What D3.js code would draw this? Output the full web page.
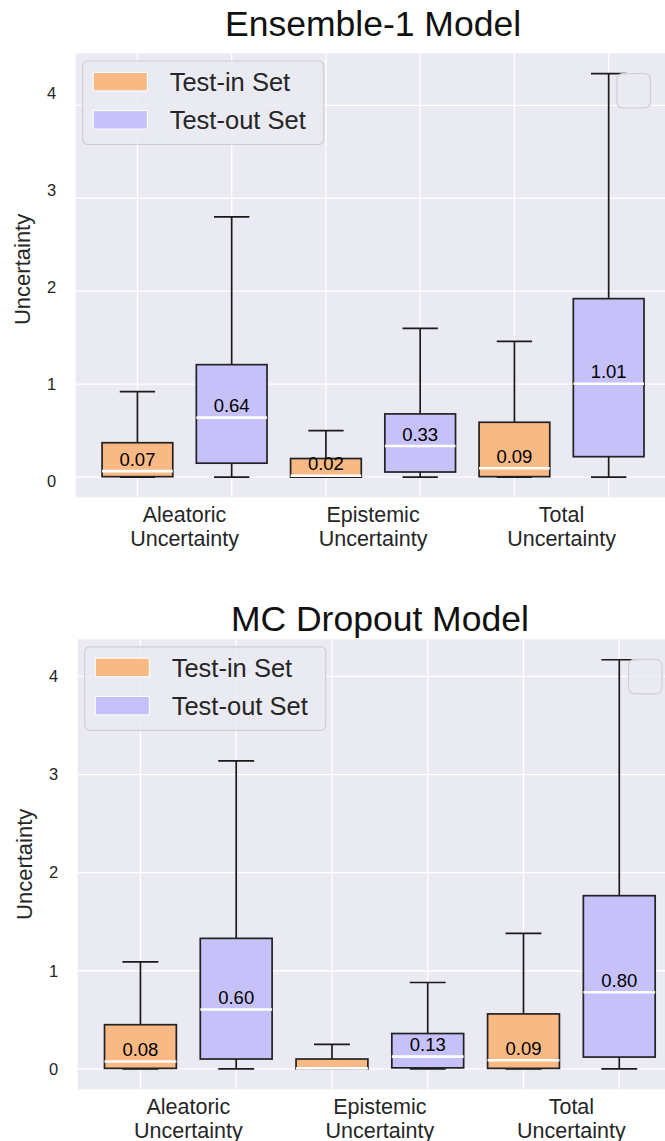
<!DOCTYPE html>
<html><head><meta charset="utf-8">
<script src="https://cdn.jsdelivr.net/npm/d3@7"></script>
<style>
body{margin:0;background:#fff;}
svg{display:block;font-family:Arial,"Liberation Sans",sans-serif;}
</style>
</head><body>
<svg id="chart" width="665" height="1141"></svg>
<script>
// ---------- data ----------
const categories = [["Aleatoric","Uncertainty"],["Epistemic","Uncertainty"],["Total","Uncertainty"]];
const groups = ["Test-in Set","Test-out Set"];
const groupColors = ["#f9b985","#c6c1f8"];
const yTicks = [0,1,2,3,4];
const panelTitles = ["Ensemble-1 Model","MC Dropout Model"];
const yAxisTitle = "Uncertainty";

// box order: Aleatoric in, Aleatoric out, Epistemic in, Epistemic out, Total in, Total out
const ensWhiskerLow  = [0, 0, 0, 0, 0, 0];
const ensQ1          = [0.005, 0.15, 0.0, 0.055, 0.005, 0.22];
const ensMedian      = [0.065, 0.64, 0.015, 0.335, 0.095, 1.005];
const ensQ3          = [0.37, 1.21, 0.20, 0.68, 0.59, 1.92];
const ensWhiskerHigh = [0.92, 2.80, 0.50, 1.60, 1.46, 4.34];
const ensLabels      = ["0.07","0.64","0.02","0.33","0.09","1.01"];

const mcWhiskerLow  = [0, 0, 0, 0, 0, 0];
const mcQ1          = [0.005, 0.10, 0.0, 0.01, 0.005, 0.12];
const mcMedian      = [0.075, 0.605, 0.005, 0.125, 0.088, 0.78];
const mcQ3          = [0.45, 1.33, 0.10, 0.36, 0.56, 1.765];
const mcWhiskerHigh = [1.09, 3.14, 0.25, 0.88, 1.38, 4.17];
const mcLabels      = ["0.08","0.60","","0.13","0.09","0.80"];

// ---------- layout ----------
const panels = [
  {title: panelTitles[0], left: 75.7, right: 670.4, top: 53.5, bottom: 497.3, titleBase: 36,
   tickLabelRange: [481, 93.5],
   stats: {lo: ensWhiskerLow, q1: ensQ1, med: ensMedian, q3: ensQ3, hi: ensWhiskerHigh, labels: ensLabels}},
  {title: panelTitles[1], left: 77.7, right: 682, top: 639.3, bottom: 1089.3, titleBase: 631,
   tickLabelRange: null,
   stats: {lo: mcWhiskerLow, q1: mcQ1, med: mcMedian, q3: mcQ3, hi: mcWhiskerHigh, labels: mcLabels}}
];

const svg = d3.select("#chart");
const BG = "#eaeaf2", TXT = "#262626";

panels.forEach((p, pi) => {
  const g = svg.append("g");
  const s = p.stats;
  const n = s.med.length;
  const idx = d3.range(n);
  const x = d3.scaleLinear().domain([-0.655, n - 1 + 0.655]).range([p.left, p.right]);
  const lo = d3.min(s.lo), hi = d3.max(s.hi), pad = (hi - lo) * 0.05;
  const y = d3.scaleLinear().domain([lo - pad, hi + pad]).range([p.bottom, p.top]);

  // background
  g.append("rect").attr("x", p.left).attr("y", p.top)
    .attr("width", p.right - p.left).attr("height", p.bottom - p.top).attr("fill", BG);

  // grid
  g.append("g").selectAll("line").data(yTicks).join("line")
    .attr("x1", p.left).attr("x2", p.right)
    .attr("y1", d => y(d)).attr("y2", d => y(d))
    .attr("stroke", "#fff").attr("stroke-width", 1.3);
  g.append("g").selectAll("line").data(idx).join("line")
    .attr("x1", d => x(d)).attr("x2", d => x(d))
    .attr("y1", p.top).attr("y2", p.bottom)
    .attr("stroke", "#fff").attr("stroke-width", 1.3);

  // y tick labels
  const labelScale = p.tickLabelRange ? d3.scaleLinear().domain([0, 4]).range(p.tickLabelRange) : y;
  const yAxis = d3.axisLeft(labelScale).tickValues(yTicks).tickSize(0).tickPadding(0).tickFormat(d3.format("d"));
  const ya = g.append("g").attr("transform", `translate(${p.left - 19.5},0)`).call(yAxis);
  ya.select(".domain").remove();
  ya.selectAll("text").attr("font-size", 16.5).attr("fill", TXT).attr("font-family", "Arial, 'Liberation Sans', sans-serif");

  // y axis title
  g.append("text")
    .attr("transform", `translate(${p.left - 53},${(p.top + p.bottom) / 2 - (pi === 0 ? 6 : 0)}) rotate(-90)`)
    .attr("text-anchor", "middle").attr("dominant-baseline", "central")
    .attr("font-size", 22).attr("fill", TXT).text(yAxisTitle);

  // x category labels
  const xl = g.append("g");
  categories.forEach((lines, c) => {
    const cx = x(c * 2 + 0.5);
    lines.forEach((ln, li) => {
      xl.append("text").attr("x", cx).attr("y", p.bottom + 24.5 + li * 24)
        .attr("text-anchor", "middle").attr("font-size", 21.5).attr("fill", TXT).text(ln);
    });
  });

  // boxes
  const halfW = 0.375, capHalf = 0.1875;
  const boxes = g.append("g");
  idx.forEach(i => {
    const gi = i % 2;
    const cx = x(i);
    const bx = boxes.append("g");
    // whiskers
    bx.append("line").attr("x1", cx).attr("x2", cx).attr("y1", y(s.q3[i])).attr("y2", y(s.hi[i]))
      .attr("stroke", "#1a1a1a").attr("stroke-width", 1.7);
    bx.append("line").attr("x1", cx).attr("x2", cx).attr("y1", y(s.q1[i])).attr("y2", y(s.lo[i]))
      .attr("stroke", "#1a1a1a").attr("stroke-width", 1.7);
    [s.hi[i], s.lo[i]].forEach(v => {
      bx.append("line").attr("x1", x(i - capHalf)).attr("x2", x(i + capHalf))
        .attr("y1", y(v)).attr("y2", y(v)).attr("stroke", "#1a1a1a").attr("stroke-width", 1.7);
    });
    // box
    bx.append("rect").attr("x", x(i - halfW)).attr("width", x(i + halfW) - x(i - halfW))
      .attr("y", y(s.q3[i])).attr("height", Math.max(0.5, y(s.q1[i]) - y(s.q3[i])))
      .attr("fill", groupColors[gi]).attr("stroke", "#222").attr("stroke-width", 1.7);
    // median
    bx.append("line").attr("x1", x(i - halfW)).attr("x2", x(i + halfW))
      .attr("y1", y(s.med[i])).attr("y2", y(s.med[i]))
      .attr("stroke", "#fff").attr("stroke-width", 2.6);
    // label
    if (s.labels[i]) {
      bx.append("text").attr("x", cx).attr("y", y(s.med[i]) - 5.3)
        .attr("text-anchor", "middle").attr("font-size", 18.5).attr("fill", "#000").text(s.labels[i]);
    }
  });

  // legend
  const lx = p.left + 7, ly = p.top + 7.5;
  const lg = g.append("g");
  lg.append("rect").attr("x", lx).attr("y", ly).attr("width", 241).attr("height", 83.5)
    .attr("rx", 5).attr("fill", BG).attr("fill-opacity", 0.85).attr("stroke", "#cfcfcf").attr("stroke-width", 1.2);
  groups.forEach((name, k) => {
    lg.append("rect").attr("x", lx + 10.6).attr("y", ly + 11.4 + k * 38.2).attr("width", 54).attr("height", 18.5)
      .attr("fill", groupColors[k]).attr("stroke", "#fff").attr("stroke-width", 1);
    lg.append("text").attr("x", lx + 87).attr("y", ly + 30 + k * 38.2)
      .attr("font-size", 25.5).attr("fill", TXT).text(name);
  });
  // empty legend box (top right)
  lg.append("rect").attr("x", p.right - 20 - 33.5).attr("y", p.top + 20).attr("width", 33.5).attr("height", 34.5)
    .attr("rx", 6).attr("fill", BG).attr("fill-opacity", 0.8).attr("stroke", "#d0d0d0").attr("stroke-width", 1.2);

  // title
  g.append("text").attr("x", (p.left + p.right) / 2).attr("y", p.titleBase)
    .attr("text-anchor", "middle").attr("font-size", 35.5).attr("fill", "#111").text(p.title);
});
</script>
</body></html>
